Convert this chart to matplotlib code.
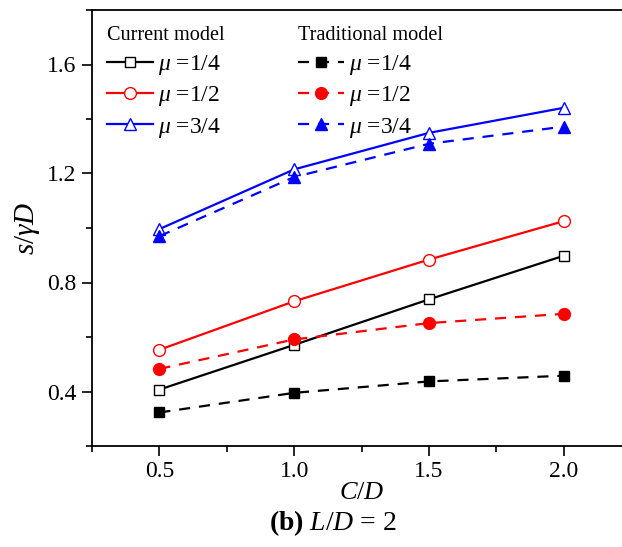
import matplotlib
matplotlib.use("Agg")
import matplotlib.pyplot as plt
from matplotlib.ticker import MultipleLocator

plt.rcParams['font.family'] = ['Liberation Serif', 'DejaVu Serif']
plt.rcParams['mathtext.fontset'] = 'custom'
plt.rcParams['mathtext.rm'] = 'Liberation Serif'
plt.rcParams['mathtext.it'] = 'Liberation Serif:italic'
plt.rcParams['mathtext.bf'] = 'Liberation Serif:bold'

# data
cd = [0.5, 1.0, 1.5, 2.0]
cur_14 = [0.407, 0.571, 0.738, 0.898]
cur_12 = [0.553, 0.731, 0.884, 1.025]
cur_34 = [0.996, 1.215, 1.349, 1.441]
trad_14 = [0.323, 0.395, 0.437, 0.458]
trad_12 = [0.483, 0.591, 0.651, 0.685]
trad_34 = [0.970, 1.187, 1.309, 1.372]

labels = [r"$\mu$ =1/4", r"$\mu$ =1/2", r"$\mu$ =3/4"]
colors = ["black", "#ff0000", "#0000ff"]
markers = ["s", "o", "^"]
msizes = [7.5, 8.5, 8.5]

W, H = 622, 547
fig = plt.figure(figsize=(W / 100, H / 100), dpi=100)
ax = fig.add_axes([92 / W, 1 - 446 / H, (631 - 92) / W, (446 - 10) / H])

cur_lines = []
for ys, c, m, ms, lab in zip([cur_14, cur_12, cur_34], colors, markers, msizes, labels):
    ln, = ax.plot(cd, ys, color=c, lw=1.6, marker=m, ms=ms, mfc="white",
                  mec=c, mew=1.0, label=lab, zorder=3)
    cur_lines.append(ln)

trad_lines = []
for ys, c, m, ms, lab in zip([trad_14, trad_12, trad_34], colors, markers, msizes, labels):
    ln, = ax.plot(cd, ys, color=c, lw=1.6, ls=(0, (5, 4)), marker=m, ms=ms,
                  mfc=c, mec=c, label=lab, zorder=3)
    trad_lines.append(ln)

ax.set_xlim(0.25, 2.25)
ax.set_ylim(0.2, 1.8)
ax.xaxis.set_major_locator(MultipleLocator(0.5))
ax.xaxis.set_minor_locator(MultipleLocator(0.25))
ax.yaxis.set_major_locator(MultipleLocator(0.4))
ax.yaxis.set_minor_locator(MultipleLocator(0.2))
ax.tick_params(which="both", direction="out", top=False, right=False,
               width=1.2, labelsize=17, pad=4)
ax.tick_params(which="major", length=7)
ax.tick_params(which="minor", length=4)
for s in ax.spines.values():
    s.set_linewidth(1.3)

ax.set_xlabel(r"$C/D$", fontsize=19)
ax.xaxis.label.set_va("center")
ax.xaxis.set_label_coords(0.5, -(493 - 446) / 436)
ax.set_ylabel(r"$s/\gamma D$", fontsize=21)
ax.yaxis.label.set_va("center")
ax.yaxis.set_label_coords(-(92 - 27) / 539, 0.5)

leg_kw = dict(frameon=False, fontsize=17, title_fontsize=14.6, handlelength=1.95,
              handletextpad=0.22, labelspacing=0.3, borderpad=0, borderaxespad=0,
              loc="upper left", alignment="left")
leg1 = ax.legend(handles=cur_lines, title="Current model",
                 bbox_to_anchor=(107 / W, 1 - 26 / H),
                 bbox_transform=fig.transFigure, **leg_kw)
leg1._legend_box.sep = 6
ax.add_artist(leg1)
leg2 = ax.legend(handles=trad_lines, title="Traditional model",
                 bbox_to_anchor=(298 / W, 1 - 26 / H),
                 bbox_transform=fig.transFigure, **leg_kw)
leg2._legend_box.sep = 6

fig.text(333 / W, 1 - 523 / H, r"$\mathbf{(b)}$ $L/D$ = 2", fontsize=20,
         ha="center", va="center")

fig.savefig("out.png", dpi=100)
